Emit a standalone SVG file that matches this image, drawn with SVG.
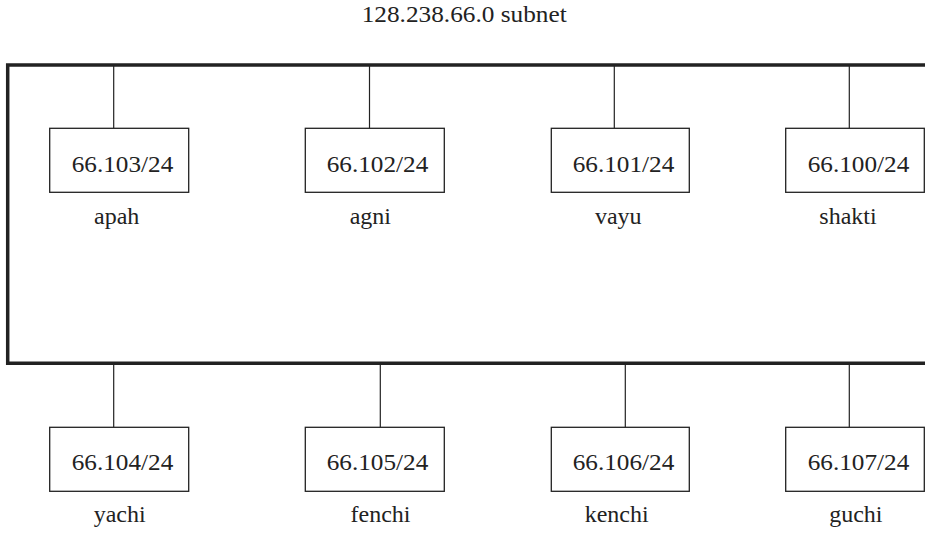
<svg xmlns="http://www.w3.org/2000/svg" width="935" height="533" viewBox="0 0 935 533">
<style>
.bus{fill:none;stroke:#222;stroke-width:3.5;stroke-linejoin:miter;stroke-linecap:butt}
.tap{stroke:#222;stroke-width:1.2;fill:none}
.box{fill:#fff;stroke:#222;stroke-width:1.3}
text{font-family:'Liberation Serif',serif;font-size:24px;fill:#222}
.lbl{text-anchor:middle}
</style>
<rect width="935" height="533" fill="#fff"/>
<text x="361.7" y="22" font-size="22" textLength="205" lengthAdjust="spacingAndGlyphs">128.238.66.0 subnet</text>
<g id="connectors">
<path class="bus" d="M925,65 H7.7 V363.3 H925"/>
<line class="tap" x1="113.7" y1="65" x2="113.7" y2="128.3"/>
<line class="tap" x1="369.5" y1="65" x2="369.5" y2="128.3"/>
<line class="tap" x1="614.3" y1="65" x2="614.3" y2="128.3"/>
<line class="tap" x1="849.3" y1="65" x2="849.3" y2="128.3"/>
<line class="tap" x1="113.7" y1="363.3" x2="113.7" y2="427.3"/>
<line class="tap" x1="380.3" y1="363.3" x2="380.3" y2="427.3"/>
<line class="tap" x1="625.3" y1="363.3" x2="625.3" y2="427.3"/>
<line class="tap" x1="849.3" y1="363.3" x2="849.3" y2="427.3"/>
</g>
<g id="apah">
<rect class="box" x="49.7" y="128.3" width="139" height="64"/>
<text x="71.7" y="171.8" textLength="101.6" lengthAdjust="spacingAndGlyphs">66.103/24</text>
<text class="lbl" x="116.7" y="223.5">apah</text>
</g>
<g id="agni">
<rect class="box" x="305.3" y="128.3" width="139" height="64"/>
<text x="326.7" y="171.8" textLength="101.6" lengthAdjust="spacingAndGlyphs">66.102/24</text>
<text class="lbl" x="370.3" y="223.5">agni</text>
</g>
<g id="vayu">
<rect class="box" x="551.3" y="128.3" width="138" height="64"/>
<text x="572.7" y="171.8" textLength="101.6" lengthAdjust="spacingAndGlyphs">66.101/24</text>
<text class="lbl" x="618.3" y="223.5">vayu</text>
</g>
<g id="shakti">
<rect class="box" x="785.7" y="128.3" width="138.6" height="64"/>
<text x="807.7" y="171.8" textLength="101.6" lengthAdjust="spacingAndGlyphs">66.100/24</text>
<text class="lbl" x="848" y="223.5">shakti</text>
</g>
<g id="yachi">
<rect class="box" x="49.7" y="427.3" width="139" height="64"/>
<text x="71.7" y="470" textLength="101.6" lengthAdjust="spacingAndGlyphs">66.104/24</text>
<text class="lbl" x="119.7" y="521.5">yachi</text>
</g>
<g id="fenchi">
<rect class="box" x="305.3" y="427.3" width="139" height="64"/>
<text x="326.7" y="470" textLength="101.6" lengthAdjust="spacingAndGlyphs">66.105/24</text>
<text class="lbl" x="380.5" y="521.5">fenchi</text>
</g>
<g id="kenchi">
<rect class="box" x="551.3" y="427.3" width="138" height="64"/>
<text x="572.7" y="470" textLength="101.6" lengthAdjust="spacingAndGlyphs">66.106/24</text>
<text class="lbl" x="616.7" y="521.5">kenchi</text>
</g>
<g id="guchi">
<rect class="box" x="785.7" y="427.3" width="138.6" height="64"/>
<text x="807.7" y="470" textLength="101.6" lengthAdjust="spacingAndGlyphs">66.107/24</text>
<text class="lbl" x="855.8" y="521.5">guchi</text>
</g>
</svg>
